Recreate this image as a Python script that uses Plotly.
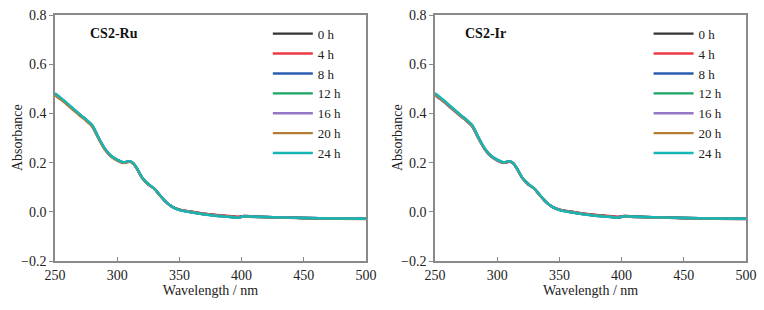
import plotly.graph_objects as go
from plotly.subplots import make_subplots

wavelength = [250, 255, 260, 265, 270, 275, 280, 285, 290, 295, 300, 305, 310, 313, 316,
              320, 325, 330, 335, 340, 345, 350, 360, 370, 380, 390, 398, 402, 410, 425,
              450, 475, 500]

series_names = ["0 h", "4 h", "8 h", "12 h", "16 h", "20 h", "24 h"]
series_colors = ["#333333", "#ee3a43", "#2a5db0", "#1ba462", "#9378c6", "#b57c35", "#17b5b5"]

# CS2-Ru
ru_0h = [0.476, 0.457, 0.436, 0.414, 0.392, 0.372, 0.348, 0.299, 0.255, 0.226, 0.210, 0.199, 0.204, 0.196, 0.174,
         0.138, 0.112, 0.093, 0.063, 0.036, 0.018, 0.009, 0.000, -0.008, -0.014, -0.018, -0.021, -0.017, -0.019, -0.022,
         -0.025, -0.027, -0.028]
ru_4h = [0.477, 0.458, 0.437, 0.415, 0.393, 0.373, 0.349, 0.300, 0.256, 0.226, 0.210, 0.200, 0.205, 0.197, 0.175,
         0.139, 0.112, 0.093, 0.063, 0.036, 0.018, 0.009, 0.000, -0.008, -0.013, -0.017, -0.020, -0.017, -0.019, -0.022,
         -0.025, -0.027, -0.028]
ru_8h = [0.479, 0.459, 0.438, 0.416, 0.394, 0.374, 0.350, 0.300, 0.256, 0.227, 0.211, 0.200, 0.205, 0.197, 0.175,
         0.139, 0.112, 0.093, 0.063, 0.036, 0.018, 0.008, -0.002, -0.010, -0.015, -0.019, -0.022, -0.018, -0.020, -0.022,
         -0.025, -0.027, -0.028]
ru_12h = [0.480, 0.460, 0.439, 0.417, 0.395, 0.375, 0.351, 0.301, 0.257, 0.227, 0.211, 0.200, 0.205, 0.197, 0.175,
          0.139, 0.112, 0.093, 0.063, 0.036, 0.018, 0.008, -0.002, -0.010, -0.016, -0.020, -0.023, -0.018, -0.020, -0.022,
          -0.025, -0.027, -0.028]
ru_16h = [0.478, 0.459, 0.438, 0.416, 0.394, 0.374, 0.350, 0.301, 0.257, 0.227, 0.211, 0.200, 0.205, 0.197, 0.175,
          0.139, 0.112, 0.093, 0.063, 0.036, 0.018, 0.008, -0.002, -0.010, -0.016, -0.020, -0.023, -0.018, -0.020, -0.022,
          -0.025, -0.027, -0.028]
ru_20h = [0.474, 0.455, 0.434, 0.412, 0.390, 0.370, 0.346, 0.297, 0.253, 0.224, 0.208, 0.198, 0.203, 0.195, 0.173,
          0.137, 0.111, 0.092, 0.062, 0.035, 0.017, 0.008, -0.002, -0.010, -0.016, -0.020, -0.023, -0.019, -0.021, -0.023,
          -0.026, -0.028, -0.029]
ru_24h = [0.482, 0.462, 0.441, 0.418, 0.396, 0.376, 0.352, 0.302, 0.258, 0.228, 0.212, 0.201, 0.206, 0.198, 0.176,
          0.140, 0.113, 0.094, 0.064, 0.036, 0.018, 0.007, -0.003, -0.011, -0.017, -0.021, -0.024, -0.018, -0.020, -0.022,
          -0.025, -0.027, -0.028]

# CS2-Ir
ir_0h = [0.475, 0.456, 0.435, 0.413, 0.391, 0.371, 0.347, 0.298, 0.254, 0.225, 0.209, 0.199, 0.204, 0.196, 0.174,
         0.138, 0.112, 0.093, 0.063, 0.036, 0.018, 0.009, 0.000, -0.008, -0.014, -0.018, -0.021, -0.017, -0.019, -0.022,
         -0.025, -0.027, -0.028]
ir_4h = [0.477, 0.457, 0.436, 0.414, 0.392, 0.372, 0.348, 0.299, 0.255, 0.226, 0.210, 0.200, 0.205, 0.197, 0.175,
         0.139, 0.112, 0.093, 0.063, 0.036, 0.018, 0.009, 0.000, -0.008, -0.013, -0.017, -0.020, -0.017, -0.019, -0.022,
         -0.025, -0.027, -0.028]
ir_8h = [0.478, 0.458, 0.437, 0.415, 0.393, 0.373, 0.349, 0.300, 0.256, 0.227, 0.211, 0.200, 0.205, 0.197, 0.175,
         0.139, 0.112, 0.093, 0.063, 0.036, 0.018, 0.008, -0.002, -0.010, -0.015, -0.019, -0.022, -0.018, -0.020, -0.022,
         -0.025, -0.027, -0.028]
ir_12h = [0.480, 0.460, 0.439, 0.417, 0.395, 0.375, 0.351, 0.301, 0.257, 0.227, 0.211, 0.200, 0.205, 0.197, 0.175,
          0.139, 0.112, 0.093, 0.063, 0.036, 0.018, 0.008, -0.002, -0.010, -0.016, -0.020, -0.023, -0.018, -0.020, -0.022,
          -0.025, -0.027, -0.028]
ir_16h = [0.474, 0.455, 0.434, 0.412, 0.390, 0.370, 0.346, 0.297, 0.253, 0.224, 0.208, 0.198, 0.203, 0.195, 0.173,
          0.137, 0.111, 0.092, 0.062, 0.035, 0.017, 0.008, -0.002, -0.010, -0.016, -0.020, -0.023, -0.019, -0.021, -0.023,
          -0.026, -0.028, -0.029]
ir_20h = [0.476, 0.457, 0.436, 0.414, 0.392, 0.372, 0.348, 0.299, 0.255, 0.226, 0.210, 0.199, 0.204, 0.196, 0.174,
          0.138, 0.112, 0.093, 0.063, 0.036, 0.018, 0.008, -0.002, -0.010, -0.016, -0.020, -0.023, -0.019, -0.021, -0.023,
          -0.026, -0.028, -0.029]
ir_24h = [0.482, 0.462, 0.441, 0.418, 0.396, 0.376, 0.352, 0.302, 0.258, 0.228, 0.212, 0.201, 0.206, 0.198, 0.176,
          0.140, 0.113, 0.094, 0.064, 0.036, 0.018, 0.007, -0.003, -0.011, -0.017, -0.021, -0.024, -0.018, -0.020, -0.022,
          -0.025, -0.027, -0.028]

ru_series = [ru_0h, ru_4h, ru_8h, ru_12h, ru_16h, ru_20h, ru_24h]
ir_series = [ir_0h, ir_4h, ir_8h, ir_12h, ir_16h, ir_20h, ir_24h]

x_ticks = [250, 300, 350, 400, 450, 500]
y_ticks = [-0.2, 0.0, 0.2, 0.4, 0.6, 0.8]

FONT = "Liberation Serif, Times New Roman, serif"
AXIS_COLOR = "#8a8a8a"
TEXT_COLOR = "#222222"

fig = make_subplots(rows=1, cols=2, horizontal_spacing=0.1)

for col, (data, leg) in enumerate([(ru_series, "legend"), (ir_series, "legend2")], start=1):
    for name, color, y in zip(series_names, series_colors, data):
        fig.add_trace(go.Scatter(x=wavelength, y=y, mode="lines", name=name,
                                 line=dict(color=color, width=2.4, shape="spline", smoothing=0.6),
                                 legend=leg, showlegend=True), row=1, col=col)

axis_common = dict(showline=True, linecolor=AXIS_COLOR, linewidth=1.5, mirror=True,
                   showgrid=False, zeroline=False, ticklen=4, tickcolor=AXIS_COLOR,
                   automargin=False,
                   tickfont=dict(family=FONT, size=14, color=TEXT_COLOR))

for col in (1, 2):
    fig.update_xaxes(range=[250, 500], tickvals=x_ticks, ticks="inside",
                     title=dict(text="Wavelength / nm", font=dict(family=FONT, size=14, color=TEXT_COLOR), standoff=2),
                     **axis_common, row=1, col=col)
    fig.update_yaxes(range=[-0.2, 0.8], tickvals=y_ticks, tickformat=".1f", ticks="outside",
                     **axis_common, row=1, col=col)

legend_common = dict(font=dict(family=FONT, size=13, color=TEXT_COLOR), bgcolor="rgba(0,0,0,0)",
                     yanchor="top", xanchor="left", tracegroupgap=0, itemwidth=40)

ytitle_font = dict(family=FONT, size=14, color=TEXT_COLOR)
label_font = dict(family=FONT, size=14, color="#111111")

fig.update_layout(
    width=764, height=310,
    margin=dict(l=55, r=18, t=15, b=49),
    paper_bgcolor="white", plot_bgcolor="white",
    font=dict(family=FONT, size=14, color=TEXT_COLOR),
    legend=dict(x=0.308, y=0.985, **legend_common),
    legend2=dict(x=0.859, y=0.985, **legend_common),
    annotations=[
        dict(text="<b>CS2-Ru</b>", xref="x domain", yref="y domain", x=0.105, y=0.925,
             xanchor="left", yanchor="middle", showarrow=False, font=label_font),
        dict(text="<b>CS2-Ir</b>", xref="x2 domain", yref="y2 domain", x=0.09, y=0.925,
             xanchor="left", yanchor="middle", showarrow=False, font=label_font),
        dict(text="Absorbance", xref="x domain", yref="y domain", x=-0.122, y=0.5,
             xanchor="center", yanchor="middle", textangle=-90, showarrow=False, font=ytitle_font),
        dict(text="Absorbance", xref="x2 domain", yref="y2 domain", x=-0.122, y=0.5,
             xanchor="center", yanchor="middle", textangle=-90, showarrow=False, font=ytitle_font),
    ],
)

fig.update_layout(xaxis=dict(domain=[0, 0.450]), xaxis2=dict(domain=[0.550, 1.0]))

fig.write_html("out.html", config={"displayModeBar": False},
               post_script="document.body.style.margin='0';document.body.style.overflow='hidden';")
